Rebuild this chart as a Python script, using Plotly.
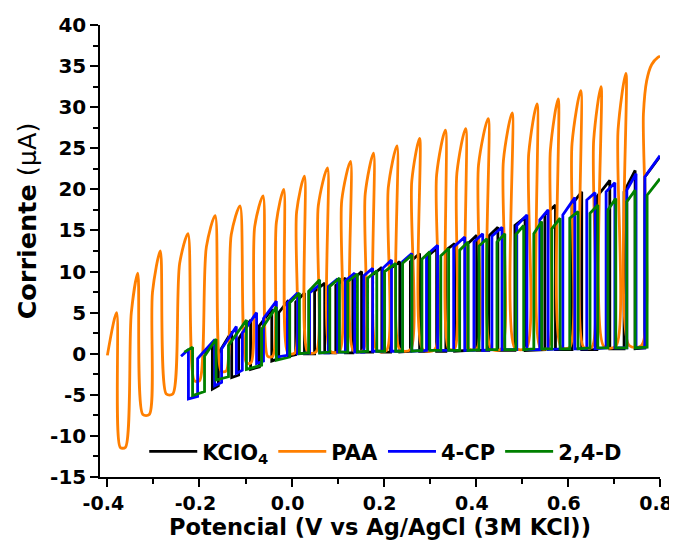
import plotly.graph_objects as go

# ---------------- data ----------------
# PAA (orange): per-cycle features
paa_start_v, paa_start_i = -0.400, -0.2
paa_pk_v = [-0.380, -0.334, -0.285, -0.225, -0.166, -0.112, -0.062, -0.017, 0.028, 0.078, 0.128, 0.178,
            0.229, 0.278, 0.334, 0.378, 0.427, 0.479, 0.533, 0.579, 0.628, 0.672, 0.726]
paa_pk_i = [5.0, 9.8, 12.5, 14.6, 16.8, 18.0, 19.2, 20.0, 21.6, 22.6, 23.4, 24.4,
            25.3, 26.2, 27.2, 27.4, 28.6, 29.3, 30.4, 31.0, 32.0, 32.5, 34.1]
paa_lo_a = [-0.372, -0.323, -0.272, -0.211, -0.153, -0.098, -0.052, -0.008, 0.035, 0.084, 0.134, 0.185,
            0.235, 0.285, 0.341, 0.385, 0.433, 0.485, 0.540, 0.585, 0.634, 0.678, 0.733]
paa_lo_b = [-0.361, -0.309, -0.258, -0.200, -0.142, -0.088, -0.041, 0.007, 0.053, 0.104, 0.155, 0.206,
            0.258, 0.311, 0.354, 0.402, 0.456, 0.510, 0.557, 0.604, 0.652, 0.704, 0.760]
paa_lo_i = [-11.4, -7.4, -4.9, -3.3, -2.1, -1.1, -0.3, 0.1, 0.2, 0.3, 0.4, 0.4,
            0.5, 0.5, 0.6, 0.6, 0.6, 0.7, 0.7, 0.8, 0.8, 0.9, 1.0]
paa_sh_v = [-0.348, -0.302, -0.243, -0.185, -0.131, -0.080, -0.033, 0.011, 0.058, 0.109, 0.160, 0.210,
            0.261, 0.315, 0.359, 0.406, 0.460, 0.515, 0.562, 0.609, 0.656, 0.709, 0.764]
paa_sh_i = [5.0, 7.5, 11.0, 13.0, 14.5, 15.5, 16.0, 17.3, 18.0, 18.7, 19.5, 20.2,
            21.0, 21.8, 22.0, 23.0, 23.5, 24.4, 24.8, 25.6, 26.0, 27.3, 29.2]
paa_tail_v = [0.771, 0.782, 0.796, 0.800]
paa_tail_i = [33.2, 35.2, 36.1, 36.2]

# 2,4-D (green) pulses
g_rise_v = [-0.233, -0.189, -0.137, -0.065, -0.004, 0.037, 0.083, 0.122, 0.165, 0.202, 0.241, 0.283,
            0.324, 0.365, 0.407, 0.446, 0.487, 0.526, 0.565, 0.604, 0.648, 0.687, 0.728, 0.772]
g_hi_a = [0.2, -0.3, 1.0, 3.0, 6.2, 7.6, 8.2, 8.8, 9.2, 10.0, 11.0, 11.5,
          11.9, 12.6, 13.1, 13.6, 14.5, 14.6, 15.2, 16.5, 17.1, 17.5, 18.5, 19.3]
g_fall_v = [-0.215, -0.164, -0.098, -0.033, 0.017, 0.061, 0.104, 0.143, 0.185, 0.226, 0.261, 0.300,
            0.341, 0.383, 0.424, 0.463, 0.504, 0.543, 0.583, 0.622, 0.665, 0.704, 0.746]
g_hi_b = [0.8, 1.8, 4.1, 5.7, 7.4, 9.0, 9.2, 9.7, 10.1, 11.0, 12.0, 12.4,
          12.8, 13.6, 14.0, 14.6, 15.6, 16.1, 16.5, 17.3, 18.1, 18.9, 19.9]
g_lo_a = [-5.1, -3.2, -1.9, -0.8, 0.0, 0.1, 0.2, 0.2, 0.3, 0.3, 0.3, 0.4,
          0.4, 0.4, 0.5, 0.5, 0.5, 0.6, 0.6, 0.6, 0.7, 0.7, 0.7]
g_lo_b = [-4.6, -2.8, -1.4, -0.4, 0.1, 0.2, 0.2, 0.3, 0.3, 0.3, 0.4, 0.4,
          0.4, 0.5, 0.5, 0.5, 0.6, 0.6, 0.6, 0.7, 0.7, 0.7, 0.8]
g_end_v, g_end_i = 0.800, 21.3

# 4-CP (blue) pulses
b_rise_v = [-0.240, -0.204, -0.152, -0.107, -0.061, -0.009, 0.039, 0.080, 0.117, 0.157, 0.198, 0.241,
            0.293, 0.352, 0.396, 0.435, 0.489, 0.539, 0.589, 0.641, 0.683, 0.728, 0.767]
b_hi_a = [-0.3, -0.6, 0.6, 2.5, 4.3, 6.2, 7.4, 8.2, 8.9, 9.5, 10.4, 11.2,
          12.0, 13.0, 13.6, 14.3, 15.6, 16.3, 16.9, 18.7, 19.7, 19.9, 21.5]
b_fall_v = [-0.224, -0.167, -0.120, -0.076, -0.033, 0.013, 0.061, 0.100, 0.137, 0.176, 0.217, 0.261,
            0.317, 0.376, 0.415, 0.457, 0.511, 0.557, 0.615, 0.659, 0.702, 0.748]
b_hi_b = [0.5, 1.7, 3.3, 5.0, 6.4, 7.4, 8.4, 9.1, 9.8, 10.4, 11.4, 12.2,
          13.2, 14.2, 14.6, 15.4, 16.9, 17.5, 19.0, 19.6, 20.8, 21.9]
b_lo_a = [-5.5, -3.9, -2.4, -1.2, -0.4, 0.0, 0.1, 0.2, 0.2, 0.3, 0.3, 0.3,
          0.4, 0.4, 0.4, 0.5, 0.5, 0.5, 0.6, 0.6, 0.7, 0.7]
b_lo_b = [-5.2, -3.5, -2.0, -0.9, -0.2, 0.1, 0.1, 0.2, 0.2, 0.3, 0.3, 0.4,
          0.4, 0.4, 0.5, 0.5, 0.5, 0.6, 0.6, 0.7, 0.7, 0.7]
b_end_v, b_end_i = 0.800, 24.1

# KClO4 (black) pulses
k_rise_v = [-0.193, -0.159, -0.115, -0.070, -0.028, 0.009, 0.050, 0.096, 0.133, 0.176, 0.215, 0.258,
            0.296, 0.335, 0.383, 0.428, 0.485, 0.550, 0.609, 0.663, 0.722, 0.767]
k_hi_a = [0.0, 0.0, 1.8, 3.4, 5.0, 6.3, 7.6, 8.3, 9.0, 9.6, 10.4, 11.2,
          11.9, 12.6, 13.4, 14.3, 15.6, 16.9, 18.2, 19.1, 19.7, 21.5]
k_fall_v = [-0.172, -0.130, -0.089, -0.043, -0.007, 0.028, 0.072, 0.117, 0.152, 0.196, 0.235, 0.278,
            0.315, 0.354, 0.402, 0.448, 0.507, 0.573, 0.630, 0.691, 0.746]
k_hi_b = [1.0, 2.7, 4.1, 5.4, 6.5, 7.4, 8.6, 9.2, 10.0, 10.5, 11.2, 12.2,
          12.8, 13.4, 14.4, 15.4, 16.6, 18.1, 19.7, 21.1, 22.3]
k_lo_a = [-4.3, -2.9, -1.9, -0.9, -0.3, 0.0, 0.1, 0.1, 0.2, 0.2, 0.2, 0.3,
          0.3, 0.3, 0.4, 0.4, 0.4, 0.5, 0.5, 0.6, 0.6]
k_lo_b = [-3.9, -2.6, -1.6, -0.6, -0.1, 0.0, 0.1, 0.1, 0.2, 0.2, 0.3, 0.3,
          0.3, 0.4, 0.4, 0.4, 0.5, 0.5, 0.5, 0.6, 0.7]
k_end_v, k_end_i = 0.800, 24.0

x_tickvals = [-0.4, -0.2, 0.0, 0.2, 0.4, 0.6, 0.8]
x_ticktext = ["-0.4", "-0.2", "0.0", "0.2", "0.4", "0.6", "0.8"]
y_tickvals = [-15, -10, -5, 0, 5, 10, 15, 20, 25, 30, 35, 40]
y_ticktext = ["-15", "-10", "-5", "0", "5", "10", "15", "20", "25", "30", "35", "40"]

series_names = ["KClO<sub>4</sub>", "PAA", "4-CP", "2,4-D"]
series_colors = ["#000000", "#FF7F00", "#0000FF", "#008000"]
x_title = "Potencial (V vs Ag/AgCl (3M KCl))"
y_title = "<b>Corriente</b> <span style='font-weight:normal'>(µA)</span>"


# ---------------- build polylines ----------------
def pulses(rise_v, hi_a, fall_v, hi_b, lo_a, lo_b, end_v, end_i):
    xs, ys = [], []
    for k in range(len(rise_v)):
        if k > 0:
            xs.append(rise_v[k]); ys.append(lo_b[k - 1])
        xs.append(rise_v[k]); ys.append(hi_a[k])
        if k < len(fall_v):
            xs += [fall_v[k], fall_v[k]]
            ys += [hi_b[k], lo_a[k]]
    xs.append(end_v); ys.append(end_i)
    return xs, ys


def paa_curve():
    xs, ys = [paa_start_v], [paa_start_i]
    for k in range(len(paa_pk_v)):
        xs += [paa_pk_v[k], paa_lo_a[k], paa_lo_b[k], paa_sh_v[k]]
        ys += [paa_pk_i[k], paa_lo_i[k], paa_lo_i[k], paa_sh_i[k]]
    xs += paa_tail_v
    ys += paa_tail_i
    return xs, ys


FONT = "'DejaVu Sans', Verdana, sans-serif"
LW = 2.8
fig = go.Figure()

kx, ky = pulses(k_rise_v, k_hi_a, k_fall_v, k_hi_b, k_lo_a, k_lo_b, k_end_v, k_end_i)
px_, py_ = paa_curve()
bx, by = pulses(b_rise_v, b_hi_a, b_fall_v, b_hi_b, b_lo_a, b_lo_b, b_end_v, b_end_i)
gx, gy = pulses(g_rise_v, g_hi_a, g_fall_v, g_hi_b, g_lo_a, g_lo_b, g_end_v, g_end_i)

fig.add_trace(go.Scatter(x=kx, y=ky, mode="lines", name=series_names[0],
                         line=dict(color=series_colors[0], width=LW)))
fig.add_trace(go.Scatter(x=px_, y=py_, mode="lines", name=series_names[1],
                         line=dict(color=series_colors[1], width=LW, shape="spline", smoothing=0.8)))
fig.add_trace(go.Scatter(x=bx, y=by, mode="lines", name=series_names[2],
                         line=dict(color=series_colors[2], width=LW)))
fig.add_trace(go.Scatter(x=gx, y=gy, mode="lines", name=series_names[3],
                         line=dict(color=series_colors[3], width=LW)))

# the page adds an 8 px body margin, so the figure is sized/margined to land
# the plot area at the reference position in the 677x545 window
fig.update_layout(
    width=669, height=537,
    margin=dict(l=92, r=17, t=17, b=68),
    plot_bgcolor="white", paper_bgcolor="white",
    font=dict(family=FONT, color="black"),
    showlegend=True,
    legend=dict(orientation="h", x=0.079, y=0.056, xanchor="left", yanchor="middle",
                font=dict(family=FONT, size=21, color="black", weight="bold"),
                bgcolor="rgba(0,0,0,0)", itemwidth=48, tracegroupgap=0),
    xaxis=dict(range=[-0.416, 0.8], tickmode="array", tickvals=x_tickvals, ticktext=x_ticktext,
               ticks="outside", ticklen=8, tickwidth=1.5, tickcolor="black", automargin=False,
               ticklabeloverflow="allow", ticklabelshift=-4,
               showline=True, linewidth=1.5, linecolor="black", showgrid=False, zeroline=False,
               tickfont=dict(family=FONT, size=19, color="black", weight="bold"),
               minor=dict(tickmode="linear", tick0=-0.4, dtick=0.1, ticks="outside", ticklen=5,
                          tickwidth=1.5, tickcolor="black", showgrid=False),
               title=dict(text=x_title, standoff=7,
                          font=dict(family=FONT, size=22.5, color="black", weight="bold"))),
    yaxis=dict(range=[-15, 40], tickmode="array", tickvals=y_tickvals, ticktext=y_ticktext,
               ticks="outside", ticklen=8, tickwidth=1.5, tickcolor="black", automargin=False,
               showline=True, linewidth=1.5, linecolor="black", showgrid=False, zeroline=False,
               tickfont=dict(family=FONT, size=20, color="black", weight="bold"),
               minor=dict(tickmode="linear", tick0=-15, dtick=2.5, ticks="outside", ticklen=5,
                          tickwidth=1.5, tickcolor="black", showgrid=False)),
    annotations=[dict(text=y_title, textangle=-90, xref="paper", yref="paper",
                      x=-0.130, y=0.566, xanchor="center", yanchor="middle", showarrow=False,
                      font=dict(family=FONT, size=25.5, color="black"))],
)

fig.write_html("out.html")
